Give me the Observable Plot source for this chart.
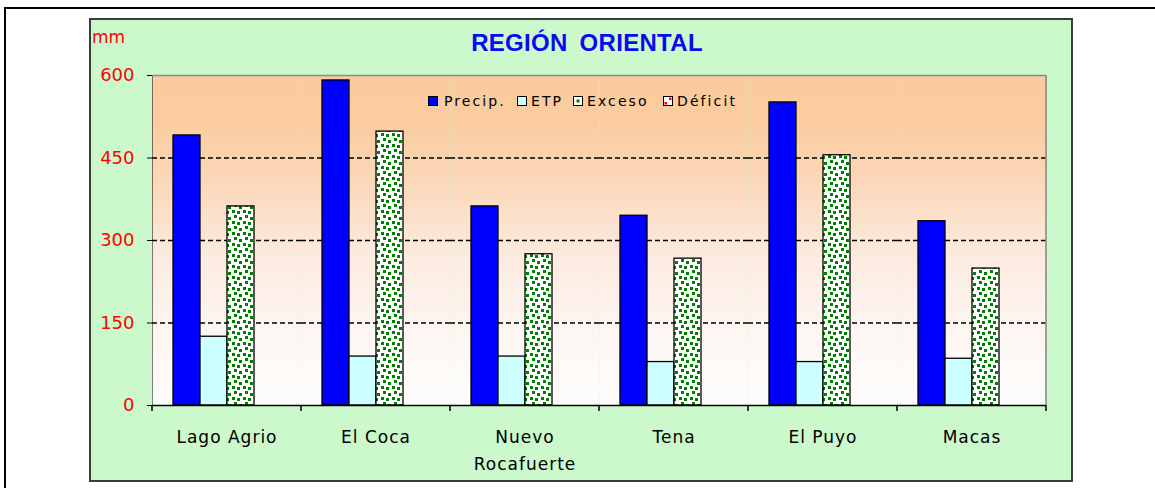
<!DOCTYPE html>
<html>
<head>
<meta charset="utf-8">
<script src="https://cdn.jsdelivr.net/npm/d3@7"></script>
<script src="https://cdn.jsdelivr.net/npm/@observablehq/plot@0.6"></script>
<style>
html, body { margin: 0; padding: 0; background: #fff; }
#wrap { position: relative; width: 1155px; height: 488px; overflow: hidden; font-family: "DejaVu Sans", sans-serif; }
#topline { position: absolute; left: 4px; top: 7px; width: 1151px; height: 2px; background: #000; }
#leftline { position: absolute; left: 4px; top: 7px; width: 2px; height: 481px; background: #000; }
#panel { position: absolute; left: 89px; top: 18px; width: 984px; height: 464px; box-sizing: border-box; border: 2px solid #3c3c3c; background: #ccf9cb; }
#chart { position: absolute; left: 0; top: 0; }
#title { position: absolute; left: 387px; width: 400px; top: 31px; text-align: center; font-family: "Liberation Sans", Arial, sans-serif; font-weight: bold; font-size: 24px; line-height: 24px; color: #0a0af0; letter-spacing: 0.3px; word-spacing: 5px; white-space: nowrap; }
#mm { position: absolute; left: 92px; top: 29px; font-size: 17px; line-height: 17px; color: #ff0000; }
.lg { position: absolute; top: 94px; font-size: 14px; line-height: 14px; letter-spacing: 2.1px; color: #000; white-space: nowrap; }
.sw { position: absolute; top: 96px; width: 10px; height: 10px; line-height: 0; }
.sw svg { display: block; }
#chart svg g[aria-label="text"] text { letter-spacing: 1px; }
</style>
</head>
<body>
<div id="wrap">
  <div id="topline"></div>
  <div id="leftline"></div>
  <div id="panel"></div>
  <div id="chart"></div>
  <div id="title">REGIÓN ORIENTAL</div>
  <div id="mm">mm</div>
  <div id="legend"></div>
</div>
<script>
// ---- data ----
const stations = ["Lago Agrio", "El Coca", "Nuevo Rocafuerte", "Tena", "El Puyo", "Macas"];
const stationLabels = ["Lago Agrio", "El Coca", "Nuevo\nRocafuerte", "Tena", "El Puyo", "Macas"];
const seriesNames = ["Precip.", "ETP", "Exceso", "Déficit"];
const precip  = [491, 591, 362, 345, 551, 335];
const etp     = [125,  89,  89,  79,  79,  85];
const exceso  = [362, 498, 275, 267, 455, 249];
const deficit = [  0,   0,   0,   0,   0,   0];
const yTicks = [0, 150, 300, 450, 600];
const gridTicks = [150, 300, 450];
const seriesColors = ["#0000ff", "#ccffff", "url(#pat-exceso)", "url(#pat-deficit)"];

const seriesValues = [precip, etp, exceso, deficit];
const data = stations.flatMap((s, i) =>
  seriesNames.map((k, j) => ({station: s, label: stationLabels[i], series: k, value: seriesValues[j][i]}))
);

const plot = Plot.plot({
  width: 1155,
  height: 488,
  marginLeft: 152,
  marginRight: 109,
  marginTop: 75,
  marginBottom: 83,
  style: {background: "transparent", fontFamily: "'DejaVu Sans', sans-serif", fontSize: "17px", color: "#000", overflow: "visible"},
  facet: {data, x: "station"},
  fx: {domain: stations, padding: 0, axis: null},
  x: {domain: seriesNames, paddingInner: 0, paddingOuter: 0.74, axis: null},
  y: {domain: [0, 600], ticks: yTicks, tickSize: 5, tickPadding: 13, line: true, label: null},
  color: {domain: seriesNames, range: seriesColors},
  marks: [
    Plot.frame({fill: "url(#bg-grad)", stroke: "none"}),
    Plot.ruleY(gridTicks, {stroke: "#000", strokeWidth: 1.5, strokeDasharray: "5,3"}),
    Plot.ruleY([600], {stroke: "#8a8a8a", strokeWidth: 1.6}),
    Plot.barY(data, {x: "series", y: "value", fill: "series", stroke: "#000", strokeWidth: 1.3}),
    Plot.ruleY([0], {stroke: "#000", strokeWidth: 1.6}),
    Plot.text(data, {filter: d => d.series === seriesNames[0], text: "label", frameAnchor: "bottom", lineAnchor: "top", dy: 18, lineHeight: 1.6, fontSize: 17, fill: "#000"})
  ]
});

document.getElementById("chart").appendChild(plot);

const svg = d3.select(plot.tagName.toLowerCase() === "svg" ? plot : plot.querySelector("svg"));
const defs = svg.insert("defs", ":first-child");
const grad = defs.append("linearGradient").attr("id", "bg-grad").attr("x1", 0).attr("y1", 0).attr("x2", 0).attr("y2", 1);
[[0, "#facb9c"], [0.14, "#facc9f"], [0.32, "#fbd8b9"], [0.55, "#fcebdf"], [0.8, "#fdf7f3"], [1, "#fdfdfd"]]
  .forEach(([o, c]) => grad.append("stop").attr("offset", o).attr("stop-color", c));

const dots = [[1, 1], [6, 2], [3, 6], [8, 8]];
const pe = defs.append("pattern").attr("id", "pat-exceso").attr("patternUnits", "userSpaceOnUse").attr("width", 11).attr("height", 11);
pe.append("rect").attr("width", 11).attr("height", 11).attr("fill", "#fff");
dots.forEach(([x, y]) =>
  pe.append("rect").attr("x", x).attr("y", y).attr("width", 3).attr("height", 3).attr("fill", "#008000").attr("shape-rendering", "crispEdges"));
const pd = defs.append("pattern").attr("id", "pat-deficit").attr("patternUnits", "userSpaceOnUse").attr("width", 11).attr("height", 11);
pd.append("rect").attr("width", 11).attr("height", 11).attr("fill", "#fff");
dots.forEach(([x, y]) =>
  pd.append("rect").attr("x", x).attr("y", y).attr("width", 3).attr("height", 3).attr("fill", "#ff0000").attr("shape-rendering", "crispEdges"));

// y-axis tick labels in red
svg.selectAll('[aria-label^="y-axis"] text').attr("fill", "#ff0000").style("font-size", "18px");

// group boundary ticks and right border, from the library's scales
const fx = plot.scale("fx");
const y = plot.scale("y");
const y0 = y.range[0], y1 = y.range[1];
const step = (fx.range[1] - fx.range[0]) / fx.domain.length;
const extra = svg.append("g");
d3.range(fx.domain.length + 1).forEach(i => {
  const xx = fx.range[0] + i * step;
  extra.append("line").attr("x1", xx).attr("x2", xx).attr("y1", y0).attr("y2", y0 + 6).attr("stroke", "#000").attr("stroke-width", 1.5);
});
extra.append("line").attr("x1", fx.range[1]).attr("x2", fx.range[1]).attr("y1", y1).attr("y2", y0)
  .attr("stroke", "#8a8a8a").attr("stroke-width", 1.6);

// ---- legend ----
const legend = document.getElementById("legend");
const swX = [428, 517, 573, 663];
const txX = [444, 531, 587, 677];
const swSvg = [
  '<svg width="10" height="10"><rect x="0.5" y="0.5" width="9" height="9" fill="#0000ff" stroke="#000"/></svg>',
  '<svg width="10" height="10"><rect x="0.5" y="0.5" width="9" height="9" fill="#ccffff" stroke="#000"/></svg>',
  '<svg width="10" height="10"><rect x="0.5" y="0.5" width="9" height="9" fill="#fff" stroke="#000"/><rect x="3.5" y="3.5" width="3" height="3" fill="#008000"/></svg>',
  '<svg width="10" height="10"><rect x="0.5" y="0.5" width="9" height="9" fill="#fff" stroke="#000"/><rect x="1.5" y="6" width="2.5" height="2.5" fill="#ff0000"/><rect x="6" y="1.5" width="2.5" height="2.5" fill="#ff0000"/></svg>'
];
seriesNames.forEach((name, i) => {
  const sw = document.createElement("div");
  sw.className = "sw"; sw.style.left = swX[i] + "px"; sw.innerHTML = swSvg[i];
  legend.appendChild(sw);
  const t = document.createElement("div");
  t.className = "lg"; t.style.left = txX[i] + "px"; t.textContent = name;
  legend.appendChild(t);
});
</script>
</body>
</html>
